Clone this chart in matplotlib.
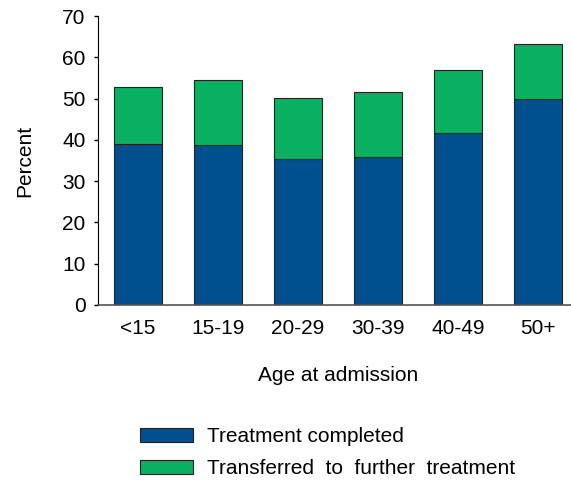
import matplotlib
matplotlib.use("Agg")
import matplotlib.pyplot as plt
from matplotlib.patches import Patch

categories = ["<15", "15-19", "20-29", "30-39", "40-49", "50+"]
completed = [38.9, 38.7, 35.4, 35.8, 41.7, 49.9]
total = [52.8, 54.4, 50.1, 51.5, 56.9, 63.3]
transferred = [t - c for t, c in zip(total, completed)]
series_names = ["Treatment completed", "Transferred  to  further  treatment"]
yticks = [0, 10, 20, 30, 40, 50, 60, 70]

blue = "#004F8F"
green = "#08B061"

plt.rcParams['font.family'] = ['Liberation Sans', 'DejaVu Sans']
fs = 15

fig = plt.figure(figsize=(5.71, 4.8), dpi=100)
W, H = 571, 480
ax = fig.add_axes([98 / W, 1 - 305 / H, (578 - 98) / W, (305 - 16) / H])

x = list(range(len(categories)))
ax.bar(x, completed, width=0.61, color=blue, edgecolor="#222222", linewidth=0.8)
ax.bar(x, transferred, bottom=completed, width=0.61, color=green, edgecolor="#222222", linewidth=0.8)

ax.set_xlim(-0.5, 5.5)
ax.set_ylim(0, 70)
ax.set_yticks(yticks)
ax.set_xticks(x)
ax.set_xticklabels(categories)
ax.tick_params(axis="x", length=0, pad=10, labelsize=fs)
ax.tick_params(axis="y", length=3, width=1, labelsize=fs, pad=6)
for s in ["top", "right"]:
    ax.spines[s].set_visible(False)
ax.spines["left"].set_color("black")
ax.spines["bottom"].set_color("#555555")
ax.spines["bottom"].set_linewidth(1.2)

ax.set_ylabel("Percent", fontsize=fs, labelpad=20)
ax.set_xlabel("Age at admission", fontsize=fs, labelpad=20)

handles = [Patch(facecolor=blue, edgecolor="#222222", linewidth=0.8),
           Patch(facecolor=green, edgecolor="#222222", linewidth=0.8)]
fig.legend(handles, series_names,
           loc="upper left", bbox_to_anchor=(140 / W, 1 - 427 / H),
           frameon=False, fontsize=fs, handlelength=2.55, handleheight=0.65,
           handletextpad=0.65, labelspacing=0.62, borderaxespad=0, borderpad=0)

fig.savefig("out.png", dpi=100)
